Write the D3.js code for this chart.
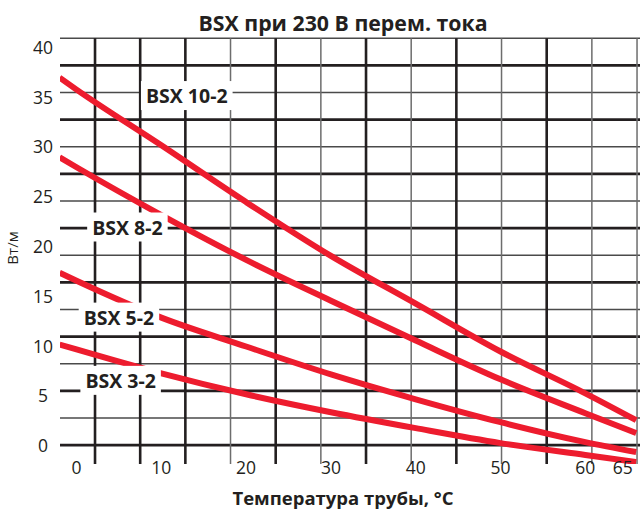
<!DOCTYPE html>
<html>
<head>
<meta charset="utf-8">
<script src="https://cdn.jsdelivr.net/npm/d3@7"></script>
<style>
  body { margin: 0; background: #fff; }
  text { font-family: "Open Sans", sans-serif; fill: #231f20; }
</style>
</head>
<body>
<div id="chart"></div>
<script>
// values
var temps = [-2, 0, 10, 20, 30, 40, 50, 60, 66];
var bsx10 = [36.9, 35.7, 30.1, 24.4, 19.0, 14.2, 9.4, 5.2, 2.5];
var bsx8 = [28.9, 27.9, 23.1, 18.6, 14.5, 10.5, 6.6, 3.2, 1.2];
var bsx5 = [17.3, 16.5, 12.8, 9.9, 7.1, 4.6, 2.3, 0.3, -0.7];
var bsx3 = [10.1, 9.6, 7.2, 5.1, 3.3, 1.7, 0.2, -1.0, -1.7];
var seriesNames = ['BSX 10-2', 'BSX 8-2', 'BSX 5-2', 'BSX 3-2'];
var xTicks = [0, 10, 20, 30, 40, 50, 60, 65];
var yTicks = [0, 5, 10, 15, 20, 25, 30, 35, 40];
// where each name sits, in chart units
var labelT = [13, 6, 5, 5.2];
var labelV = [35.1, 21.9, 12.85, 6.5];

var w = 640,
  h = 515,
  red = '#ed1c2e';

var svg = d3.select('#chart').append('svg')
  .attr('width', w)
  .attr('height', h);

var x = d3.scaleLinear().domain([-1.95, 66.45]).range([60, 640]);
var y = d3.scaleLinear().domain([-1.9, 40.85]).range([464, 38.3]);

// the printed grid does not follow the tick values
var gridY = d3.scaleLinear().domain([0, 15]).range([y(0), y(40.85)]);
var gridX = d3.scaleLinear().domain([0, 12]).range([x(2.18), x(66.1)]);

var grid = svg.append('g');

grid.selectAll('.hline')
  .data(d3.range(16))
  .enter().append('line')
  .attr('class', 'hline')
  .attr('x1', x(-1.95))
  .attr('x2', x(66.45))
  .attr('y1', function(d) { return gridY(d); })
  .attr('y2', function(d) { return gridY(d); })
  .attr('stroke', function(d) { return d % 2 === 0 ? '#231f20' : '#4a4a4a'; })
  .attr('stroke-width', function(d) { return d % 2 === 0 ? 2.6 : 1.5; });

grid.selectAll('.vline')
  .data(d3.range(13))
  .enter().append('line')
  .attr('class', 'vline')
  .attr('x1', function(d) { return gridX(d); })
  .attr('x2', function(d) { return gridX(d); })
  .attr('y1', y(40.85))
  .attr('y2', y(-1.9))
  .attr('stroke', function(d) { return (d < 3 || (d % 2 === 0 && d < 12)) ? '#231f20' : '#6d6d6d'; })
  .attr('stroke-width', function(d) { return (d < 3 || (d % 2 === 0 && d < 12)) ? 2.6 : 1.5; });

// clip the curves to the plot
svg.append('clipPath').attr('id', 'plot')
  .append('rect')
  .attr('x', x(-1.95))
  .attr('y', y(40.85))
  .attr('width', x(66.45) - x(-1.95))
  .attr('height', y(-1.9) - y(40.85));

var line = d3.line()
  .x(function(d, i) { return x(temps[i]); })
  .y(function(d) { return y(d); })
  .curve(d3.curveMonotoneX);

svg.append('g')
  .attr('clip-path', 'url(#plot)')
  .selectAll('path')
  .data([bsx10, bsx8, bsx5, bsx3])
  .enter().append('path')
  .attr('d', line)
  .attr('fill', 'none')
  .attr('stroke', red)
  .attr('stroke-width', 6);

// series names on white boxes
var names = svg.selectAll('.name')
  .data(seriesNames)
  .enter().append('g')
  .attr('class', 'name');

names.append('rect').attr('fill', '#fff');
names.append('text')
  .attr('x', function(d, i) { return x(labelT[i]); })
  .attr('y', function(d, i) { return y(labelV[i]); })
  .attr('text-anchor', 'middle')
  .attr('dominant-baseline', 'central')
  .attr('font-size', 19.5)
  .attr('font-weight', 'bold')
  .text(function(d) { return d; });

names.each(function() {
  var g = d3.select(this);
  var b = g.select('text').node().getBBox();
  g.select('rect')
    .attr('x', b.x - 5)
    .attr('y', b.y - 1)
    .attr('width', b.width + 10)
    .attr('height', b.height + 2);
});

// tick labels
svg.selectAll('.ylab')
  .data(yTicks)
  .enter().append('text')
  .attr('class', 'ylab')
  .attr('x', 43)
  .attr('y', function(d) { return y(d); })
  .attr('text-anchor', 'middle')
  .attr('dominant-baseline', 'central')
  .attr('font-size', 17.5)
  .text(function(d) { return d; });

svg.selectAll('.xlab')
  .data(xTicks)
  .enter().append('text')
  .attr('class', 'xlab')
  .attr('x', function(d) { return x(d) - (d === 65 ? 5 : 0); })
  .attr('y', 467)
  .attr('text-anchor', 'middle')
  .attr('dominant-baseline', 'central')
  .attr('font-size', 17.5)
  .text(function(d) { return d; });

// titles
svg.append('text')
  .attr('x', 343)
  .attr('y', 22)
  .attr('text-anchor', 'middle')
  .attr('dominant-baseline', 'central')
  .attr('font-size', 21.3)
  .attr('font-weight', 'bold')
  .text('BSX при 230 В перем. тока');

svg.append('text')
  .attr('x', 343)
  .attr('y', 497)
  .attr('text-anchor', 'middle')
  .attr('dominant-baseline', 'central')
  .attr('font-size', 18.5)
  .attr('font-weight', 'bold')
  .text('Температура трубы, °C');

svg.append('text')
  .attr('transform', 'translate(12,248) rotate(-90)')
  .attr('text-anchor', 'middle')
  .attr('dominant-baseline', 'central')
  .attr('font-size', 15)
  .text('Вт/м');
</script>
</body>
</html>
